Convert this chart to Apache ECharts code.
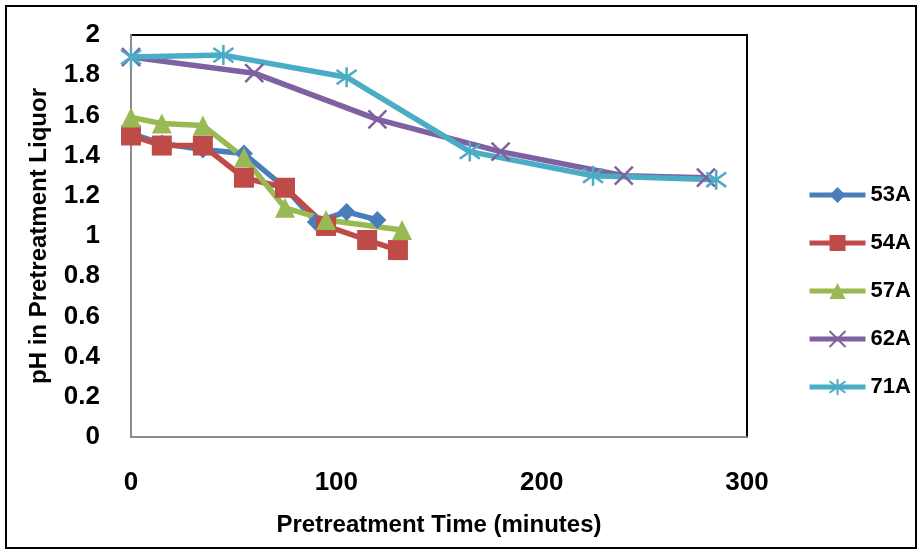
<!DOCTYPE html>
<html><head><meta charset="utf-8">
<script src="https://cdn.jsdelivr.net/npm/echarts@6/dist/echarts.min.js"></script>
<style>html,body{margin:0;padding:0;background:#fff}#c{width:922px;height:553px}</style>
</head><body><div id="c"></div>
<script>
const seriesNames = ['53A','54A','57A','62A','71A'];
const t53 = [0,15,35,55,75,90,105,120];
const v53 = [1.51,1.46,1.43,1.41,1.24,1.07,1.12,1.08];
const t54 = [0,15,35,55,75,95,115,130];
const v54 = [1.50,1.45,1.45,1.29,1.24,1.05,0.98,0.93];
const t57 = [0,15,35,55,75,95,132];
const v57 = [1.59,1.56,1.55,1.39,1.14,1.08,1.03];
const t62 = [0,60,120,180,240,280];
const v62 = [1.89,1.81,1.58,1.42,1.30,1.29];
const t71 = [0,45,105,165,225,285];
const v71 = [1.89,1.90,1.79,1.42,1.30,1.28];
const xTicks = [0,100,200,300];
const yTicks = [0,0.2,0.4,0.6,0.8,1,1.2,1.4,1.6,1.8,2];

const colors = ['#4A7EBB','#BE4B48','#98B954','#7F60A0','#4BACC6'];
const FONT = 'Liberation Sans';
const xPath = 'path://M0,0L10,10M10,0L0,10';
const starPath = 'path://M0,0L10,10M10,0L0,10M5,-2L5,12';
const pairs = (t,v)=>t.map((x,i)=>[x,v[i]]);
const dataSets = [pairs(t53,v53),pairs(t54,v54),pairs(t57,v57),pairs(t62,v62),pairs(t71,v71)];
const symbols = ['diamond','rect','triangle',xPath,starPath];
const sizes = [18,20,20,[18,18],[20,20]];

const chart = echarts.init(document.getElementById('c'));
chart.setOption({
  animation:false,
  backgroundColor:'#fff',
  color:colors,
  graphic:[{type:'rect',shape:{x:6,y:6,width:910,height:542},style:{fill:'none',stroke:'#000',lineWidth:2},z:-1}],
  grid:{left:131,top:35,right:175,bottom:116,show:true,borderColor:'#000',borderWidth:2,backgroundColor:'#fff'},
  legend:{
    orient:'vertical',left:802,top:179,itemWidth:56,itemHeight:20,itemGap:26,
    lineStyle:{width:5},
    textStyle:{fontFamily:FONT,fontWeight:'bold',fontSize:22,color:'#000'},
    data:seriesNames
  },
  xAxis:{
    type:'value',min:0,max:300,interval:100,
    axisLine:{show:true,lineStyle:{color:'#8c8c8c',width:2}},
    axisTick:{show:false},splitLine:{show:false},
    axisLabel:{margin:33,fontFamily:FONT,fontWeight:'bold',fontSize:26,color:'#000'},
    name:'Pretreatment Time (minutes)',nameLocation:'middle',nameGap:76,
    nameTextStyle:{fontFamily:FONT,fontWeight:'bold',fontSize:24,color:'#000'}
  },
  yAxis:{
    type:'value',min:0,max:2,interval:0.2,
    axisLine:{show:true,lineStyle:{color:'#8c8c8c',width:2}},
    axisTick:{show:false},splitLine:{show:false},
    axisLabel:{margin:31,fontFamily:FONT,fontWeight:'bold',fontSize:26,color:'#000'},
    name:'pH in Pretreatment Liquor',nameLocation:'middle',nameGap:80,
    nameTextStyle:{fontFamily:FONT,fontWeight:'bold',fontSize:24,color:'#000'}
  },
  series:seriesNames.map((n,i)=>({
    name:n,type:'line',data:dataSets[i],
    symbol:symbols[i],symbolSize:sizes[i],showAllSymbol:true,
    lineStyle:{width:5.5,color:colors[i]},
    itemStyle: i>=3 ? {color:'none',borderColor:colors[i],borderWidth:2.5} : {color:colors[i]},
    emphasis:{disabled:true}
  }))
});
</script></body></html>
